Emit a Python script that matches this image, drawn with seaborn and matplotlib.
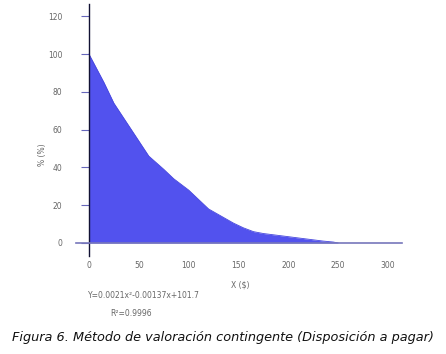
import matplotlib
matplotlib.use("Agg")
import matplotlib.pyplot as plt
import seaborn as sns
import pandas as pd

# values
precio = [0, 5, 10, 15, 25, 30, 40, 50, 60, 75, 85, 100, 110, 120, 130,
          145, 155, 165, 175, 190, 205, 220, 235, 245, 250]
porcentaje = [100, 95, 90, 85, 74, 70, 62, 54, 46, 39, 34, 28, 23, 18, 15,
              10.5, 8, 6, 5, 4, 3, 2, 1, 0.5, 0]
x_ticks = [0, 50, 100, 150, 200, 250, 300]
x_tick_labels = ["0", "50", "100", "150", "200", "250", "300"]
y_ticks = [0, 20, 40, 60, 80, 100, 120]

df = pd.DataFrame({"x": precio, "y": porcentaje})

sns.set_style("white")
plt.rcParams["font.family"] = ["DejaVu Sans"]

W, H = 446, 354
fig = plt.figure(figsize=(W / 100, H / 100), dpi=100)
ax = fig.add_axes([76 / W, (H - 256) / H, 326 / W, 252 / H])

fill_color = "#5252ee"
ax.fill_between(df["x"], df["y"], 0, color=fill_color, lw=0)
sns.lineplot(data=df, x="x", y="y", ax=ax, color="#4646dd", lw=0.6)

ax.set_xlim(-13, 314)
ax.set_ylim(-6.9, 126.5)

for s in ["top", "right"]:
    ax.spines[s].set_visible(False)
ax.spines["left"].set_position(("data", 0))
ax.spines["bottom"].set_position(("data", 0))
ax.spines["left"].set_color("#111133")
ax.spines["left"].set_linewidth(1.0)
ax.spines["bottom"].set_color("#7777bb")
ax.spines["bottom"].set_linewidth(1.2)

ax.set_xticks(x_ticks)
ax.set_xticklabels(x_tick_labels)
ax.set_yticks(y_ticks)
ax.tick_params(axis="x", direction="out", length=6, width=0.8, color="#222244",
               labelsize=5.5, labelcolor="#666666", pad=7)
ax.tick_params(axis="y", direction="out", length=6, width=0.8, color="#6666bb",
               labelsize=5.5, labelcolor="#666666", pad=13, left=True)
ax.set_xlabel("")
ax.set_ylabel("")

fig.text(240 / W, 1 - 285 / H, "X ($)", ha="center", va="center",
         fontsize=5.5, color="#666666")
fig.text(43 / W, 1 - 155 / H, "% (%)", ha="center", va="center",
         fontsize=5.5, color="#666666", rotation=90)
fig.text(88 / W, 1 - 296 / H, "Y=0.0021x²-0.00137x+101.7", ha="left",
         va="center", fontsize=5.5, color="#666666")
fig.text(131 / W, 1 - 314 / H, "R²=0.9996", ha="center", va="center",
         fontsize=5.5, color="#666666")

fig.text(223 / W, 1 - 338 / H,
         "Figura 6. Método de valoración contingente (Disposición a pagar)",
         ha="center", va="center", fontsize=9.3, style="italic", color="#111111")

fig.savefig("out.png", dpi=100)
